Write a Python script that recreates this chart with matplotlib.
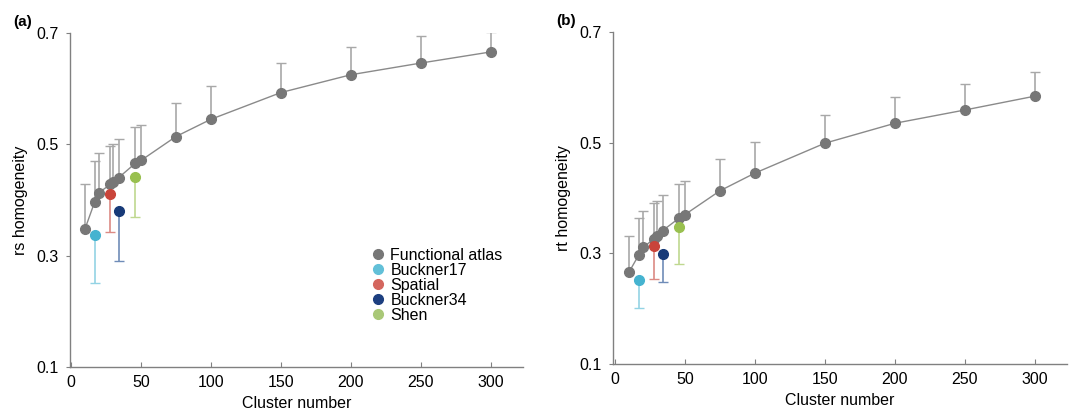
import matplotlib
matplotlib.use("Agg")
import matplotlib.pyplot as plt
from matplotlib.lines import Line2D

plt.rcParams['font.family'] = ['Liberation Sans', 'DejaVu Sans']

# functional atlas, both panels share the cluster numbers
clusters = [10, 17, 20, 28, 30, 34, 46, 50, 75, 100, 150, 200, 250, 300]
rs_mean = [0.348, 0.397, 0.413, 0.428, 0.433, 0.440, 0.466, 0.471, 0.514, 0.545, 0.593, 0.625, 0.646, 0.666]
rs_top = [0.428, 0.470, 0.484, 0.497, 0.500, 0.510, 0.531, 0.535, 0.575, 0.605, 0.647, 0.675, 0.695, 0.702]
rt_mean = [0.266, 0.297, 0.311, 0.326, 0.332, 0.341, 0.364, 0.370, 0.413, 0.445, 0.499, 0.535, 0.559, 0.584]
rt_top = [0.332, 0.364, 0.376, 0.391, 0.395, 0.405, 0.425, 0.430, 0.470, 0.501, 0.550, 0.583, 0.606, 0.628]

# other atlases
atlas_names = ['Buckner17', 'Spatial', 'Buckner34', 'Shen']
atlas_n = [17, 28, 34, 46]
atlas_rs = [0.338, 0.411, 0.380, 0.442]
atlas_rs_low = [0.251, 0.342, 0.290, 0.369]
atlas_rt = [0.252, 0.313, 0.298, 0.348]
atlas_rt_low = [0.201, 0.254, 0.249, 0.281]

dot_colors = ['#45b3d0', '#c9443a', '#173a78', '#99c04f']
bar_colors = ['#93d3e4', '#dc8a84', '#6f8cb8', '#bfd88f']
legend_colors = ['#777777', '#62c0d8', '#d4665e', '#1d3f80', '#a9c877']
GRAY = '#777777'
SPINE = '#808080'


def panel(ax, mean, top, amean, alow, ylabel, tag, x0):
    up = [t - m for t, m in zip(top, mean)]
    ax.errorbar(clusters, mean, yerr=[[0] * len(mean), up], fmt='none',
                ecolor='#a8a8a8', elinewidth=1.2, capsize=3.5, capthick=1.0, zorder=1)
    ax.plot(clusters, mean, '-', color='#8a8a8a', lw=1.0, zorder=2)
    ax.plot(clusters, mean, 'o', color=GRAY, ms=7, zorder=3)
    for i in range(len(atlas_n)):
        ax.errorbar([atlas_n[i]], [amean[i]], yerr=[[amean[i] - alow[i]], [0]], fmt='none',
                    ecolor=bar_colors[i], elinewidth=1.2, capsize=3.5, capthick=1.0, zorder=1)
        ax.plot([atlas_n[i]], [amean[i]], 'o', color=dot_colors[i], ms=7, zorder=3)
    ax.set_xlim(x0, 323)
    ax.set_ylim(0.1, 0.7)
    ax.set_xticks([0, 50, 100, 150, 200, 250, 300])
    ax.set_yticks([0.1, 0.3, 0.5, 0.7])
    ax.set_yticklabels(['0.1', '0.3', '0.5', '0.7'])
    for s in ['top', 'right']:
        ax.spines[s].set_visible(False)
    for s in ['left', 'bottom']:
        ax.spines[s].set_color(SPINE)
        ax.spines[s].set_linewidth(1.0)
    ax.tick_params(axis='y', direction='out', length=3, color=SPINE, labelsize=11.5, pad=5)
    ax.tick_params(axis='x', direction='in', length=3.5, color=SPINE, labelsize=11.5, pad=6)
    ax.set_xlabel('Cluster number', fontsize=11.5, labelpad=4)
    ax.set_ylabel(ylabel, fontsize=11.5, labelpad=6)
    ax.text(-0.125, 1.02, tag, transform=ax.transAxes, fontsize=11, fontweight='bold')


fig = plt.figure(figsize=(10.77, 4.13), dpi=100)
ax1 = fig.add_axes([0.065, 0.1114, 0.4206, 0.8087])
ax2 = fig.add_axes([0.5692, 0.1186, 0.4215, 0.804])

panel(ax1, rs_mean, rs_top, atlas_rs, atlas_rs_low, 'rs homogeneity', '(a)', -0.7)
panel(ax2, rt_mean, rt_top, atlas_rt, atlas_rt_low, 'rt homogeneity', '(b)', -1.4)

handles = [Line2D([], [], ls='none', marker='o', ms=7, color=c) for c in legend_colors]
ax1.legend(handles, ['Functional atlas'] + atlas_names, loc='upper left',
           bbox_to_anchor=(0.651, 0.38), frameon=False, fontsize=11.5,
           handlelength=0.6, handletextpad=0.5, labelspacing=0.0, borderpad=0)

fig.savefig('out.png', dpi=100)
